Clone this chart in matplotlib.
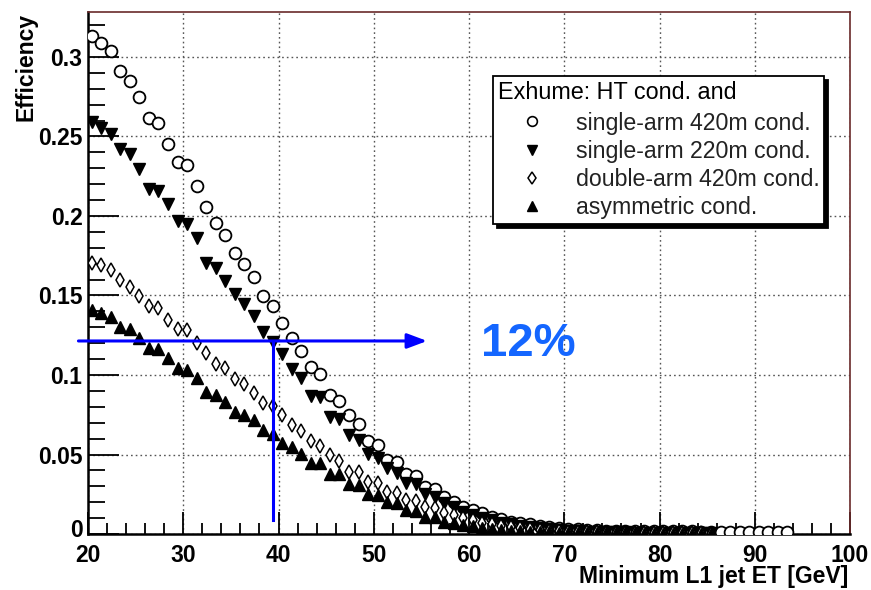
import matplotlib
matplotlib.use("Agg")
import matplotlib.pyplot as plt
from matplotlib.lines import Line2D
from matplotlib.ticker import MultipleLocator
from matplotlib.transforms import ScaledTranslation

plt.rcParams['font.family'] = ['Liberation Sans', 'DejaVu Sans']

# minimum L1 jet ET thresholds (bin centres)
x_start = 20.4
n_single420 = 74
n_other = 66

eff_single420 = [0.3135, 0.3086, 0.3040, 0.2914, 0.2851, 0.2747, 0.2618, 0.2587, 0.2451, 0.2338,
                 0.2321, 0.2190, 0.2057, 0.1954, 0.1878, 0.1770, 0.1696, 0.1614, 0.1497, 0.1435,
                 0.1330, 0.1230, 0.1153, 0.1050, 0.1005, 0.0874, 0.0839, 0.0748, 0.0692, 0.0585,
                 0.0560, 0.0465, 0.0455, 0.0377, 0.0365, 0.0298, 0.0283, 0.0231, 0.0203, 0.0172,
                 0.0151, 0.0132, 0.0109, 0.0094, 0.0077, 0.0069, 0.0063, 0.0052, 0.0045, 0.0040,
                 0.0034, 0.0030, 0.0027, 0.0024, 0.0022, 0.0020, 0.0019, 0.0018, 0.0018, 0.0017,
                 0.0017, 0.0016, 0.0016, 0.0016, 0.0015, 0.0015, 0.0015, 0.0015, 0.0014, 0.0014,
                 0.0014, 0.0014, 0.0013, 0.0013]

eff_single220 = [0.2593, 0.2551, 0.2516, 0.2421, 0.2390, 0.2294, 0.2168, 0.2157, 0.2074, 0.1971,
                 0.1950, 0.1860, 0.1706, 0.1671, 0.1593, 0.1509, 0.1447, 0.1373, 0.1272, 0.1207,
                 0.1131, 0.1039, 0.0984, 0.0870, 0.0864, 0.0734, 0.0723, 0.0623, 0.0591, 0.0503,
                 0.0476, 0.0413, 0.0382, 0.0323, 0.0313, 0.0252, 0.0235, 0.0193, 0.0172, 0.0140,
                 0.0122, 0.0102, 0.0086, 0.0072, 0.0060, 0.0050, 0.0042, 0.0035, 0.0029, 0.0024,
                 0.0020, 0.0017, 0.0015, 0.0013, 0.0012, 0.0011, 0.0010, 0.0009, 0.0008, 0.0008,
                 0.0007, 0.0007, 0.0006, 0.0006, 0.0005, 0.0005]

eff_double420 = [0.1706, 0.1692, 0.1660, 0.1597, 0.1551, 0.1499, 0.1434, 0.1419, 0.1346, 0.1287,
                 0.1283, 0.1199, 0.1140, 0.1069, 0.1042, 0.0973, 0.0943, 0.0885, 0.0826, 0.0803,
                 0.0746, 0.0686, 0.0648, 0.0587, 0.0555, 0.0497, 0.0461, 0.0392, 0.0388, 0.0329,
                 0.0319, 0.0266, 0.0260, 0.0214, 0.0208, 0.0172, 0.0162, 0.0130, 0.0119, 0.0099,
                 0.0085, 0.0072, 0.0060, 0.0050, 0.0042, 0.0035, 0.0029, 0.0024, 0.0020, 0.0017,
                 0.0014, 0.0012, 0.0011, 0.0010, 0.0009, 0.0008, 0.0007, 0.0007, 0.0006, 0.0006,
                 0.0005, 0.0005, 0.0004, 0.0004, 0.0004, 0.0003]

eff_asym = [0.1409, 0.1388, 0.1367, 0.1300, 0.1287, 0.1231, 0.1168, 0.1162, 0.1105, 0.1042,
            0.1031, 0.0979, 0.0895, 0.0874, 0.0832, 0.0769, 0.0748, 0.0717, 0.0654, 0.0628,
            0.0574, 0.0549, 0.0503, 0.0449, 0.0444, 0.0377, 0.0377, 0.0314, 0.0308, 0.0250,
            0.0245, 0.0203, 0.0193, 0.0151, 0.0147, 0.0109, 0.0105, 0.0077, 0.0071, 0.0057,
            0.0048, 0.0040, 0.0033, 0.0027, 0.0022, 0.0018, 0.0015, 0.0012, 0.0010, 0.0009,
            0.0008, 0.0007, 0.0006, 0.0006, 0.0005, 0.0005, 0.0004, 0.0004, 0.0003, 0.0003,
            0.0003, 0.0002, 0.0002, 0.0002, 0.0001, 0.0001]

labels = ['single-arm 420m cond.', 'single-arm 220m cond.',
          'double-arm 420m cond.', 'asymmetric cond.']

# the 12% working point
cut_et = 39.45
cut_eff = 0.1214

x420 = [x_start + i for i in range(n_single420)]
xoth = [x_start + i for i in range(n_other)]

fig = plt.figure(figsize=(8.71, 5.90), dpi=100)
ax = fig.add_axes([0.101, 0.0949, 0.875, 0.8848])

ax.plot(x420, eff_single420, 'o', mfc='white', mec='black', mew=1.3, ms=8.5, ls='', zorder=3)
ax.plot(xoth, eff_single220, 'v', color='black', ms=8, ls='', zorder=3)
ax.plot(xoth, eff_double420, 'd', mfc='white', mec='black', mew=1.1, ms=7.5, ls='', zorder=3)
ax.plot(xoth, eff_asym, '^', color='black', ms=8, ls='', zorder=3)

ax.set_xlim(20, 100)
ax.set_ylim(0, 0.3283)

# ROOT style ticks and dotted grid
ax.xaxis.set_major_locator(MultipleLocator(10))
ax.xaxis.set_minor_locator(MultipleLocator(2))
ax.yaxis.set_major_locator(MultipleLocator(0.05))
ax.yaxis.set_minor_locator(MultipleLocator(0.01))
ax.tick_params(which='both', direction='in', top=False, right=False, width=1.3)
ax.tick_params(which='major', axis='x', length=16, pad=7)
ax.tick_params(which='minor', axis='x', length=8)
ax.tick_params(which='major', axis='y', length=22, pad=4)
ax.tick_params(which='minor', axis='y', length=12)
ax.set_yticks([0, 0.05, 0.1, 0.15, 0.2, 0.25, 0.3])
ax.set_yticklabels(['0', '0.05', '0.1', '0.15', '0.2', '0.25', '0.3'])
for lab in ax.get_xticklabels() + ax.get_yticklabels():
    lab.set_fontsize(16.5)
    lab.set_fontweight('bold')
zero_lab = ax.get_yticklabels()[0]
zero_lab.set_transform(zero_lab.get_transform() + ScaledTranslation(0, 4 / 72, fig.dpi_scale_trans))
ax.grid(True, which='major', ls=(0, (1.2, 2.2)), color='#555555', lw=1.0)

for side in ['left', 'bottom']:
    ax.spines[side].set_linewidth(1.8)
for side in ['top', 'right']:
    ax.spines[side].set_color('#6a2a2a')
    ax.spines[side].set_linewidth(1.2)

fig.text(0.030, 0.978, 'Efficiency', rotation=90, ha='center', va='top',
         fontsize=16.5, fontweight='bold')
fig.text(0.974, 0.0424, 'Minimum L1 jet ET [GeV]', ha='right', va='top',
         fontsize=16.5, fontweight='bold')

# blue annotation
ax.annotate('', xy=(55.6, cut_eff), xytext=(19.0, cut_eff), annotation_clip=False,
            arrowprops=dict(arrowstyle='-|>,head_length=1.2,head_width=0.45',
                            color='#0000ff', lw=2.2, shrinkA=0, shrinkB=0))
ax.plot([cut_et, cut_et], [cut_eff, 0.009], color='#0000ff', lw=2.2, zorder=4)
ax.text(66.2, 0.1195, '12%', color='#1466ff', fontsize=34, fontweight='bold',
        ha='center', va='center')

# legend
handles = [
    Line2D([], [], marker='o', mfc='white', mec='black', mew=1.2, ms=7, ls=''),
    Line2D([], [], marker='v', color='black', ms=7, ls=''),
    Line2D([], [], marker='d', mfc='white', mec='black', mew=1.1, ms=6.5, ls=''),
    Line2D([], [], marker='^', color='black', ms=7, ls=''),
]
leg = ax.legend(handles, labels, title='Exhume: HT cond. and', loc='upper left',
                bbox_to_anchor=(0.5315, 0.877), fontsize=16.7, title_fontsize=16.8,
                frameon=True, fancybox=False, edgecolor='black', framealpha=1,
                shadow={'color': 'black', 'ox': 3, 'oy': -3, 'alpha': 1},
                borderpad=0.2, labelspacing=0.22, handlelength=2.95, handletextpad=0.42,
                borderaxespad=0, alignment='left')
leg._legend_box.sep = 5.6
leg.get_frame().set_linewidth(1.3)
for t in leg.get_texts():
    t.set_color('#222222')

fig.savefig('out.png', dpi=100)
